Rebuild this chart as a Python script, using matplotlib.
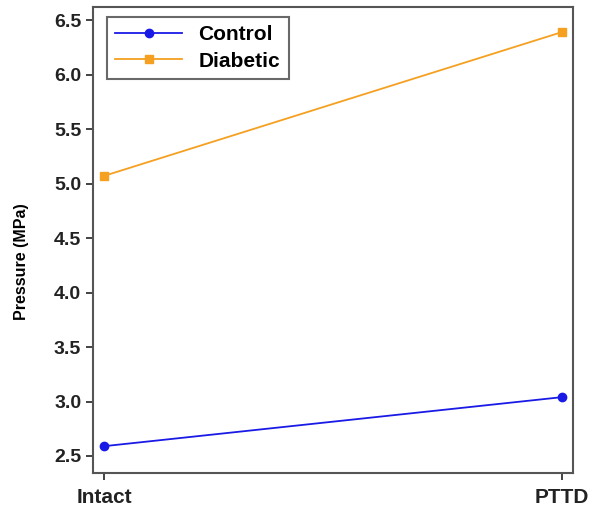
import matplotlib.pyplot as plt

conditions = ["Intact", "PTTD"]
control = [2.59, 3.04]
diabetic = [5.07, 6.39]

plt.rcParams['font.family'] = ['Liberation Sans', 'DejaVu Sans']
plt.rcParams['font.weight'] = 'bold'

fig = plt.figure(figsize=(5.92, 5.12), dpi=100)
ax = fig.add_axes([93/592, 1-473/512, 480/592, 466/512])

x = list(range(len(conditions)))
ax.plot(x, control, color='#1a1ae6', marker='o', markersize=6, lw=1.3, label='Control')
ax.plot(x, diabetic, color='#f5a020', marker='s', markersize=6, lw=1.3, label='Diabetic')

ax.set_xlim(-0.024, 1.024)
ax.set_ylim(2.344, 6.62)
ax.set_xticks(x)
ax.set_xticklabels(conditions, fontsize=15, fontweight='bold')
ax.set_yticks([2.5, 3.0, 3.5, 4.0, 4.5, 5.0, 5.5, 6.0, 6.5])
ax.set_yticklabels(["2.5", "3.0", "3.5", "4.0", "4.5", "5.0", "5.5", "6.0", "6.5"], fontsize=14, fontweight='bold')
ax.set_ylabel("Pressure (MPa)", fontsize=11.5, fontweight='bold')
ax.yaxis.set_label_coords(-0.133, 0.453)
for s in ax.spines.values():
    s.set_color('#555555')
    s.set_linewidth(1.5)
ax.tick_params(colors='#222222', length=5, width=1.2)
ax.tick_params(axis='x', pad=6)

leg = ax.legend(loc='upper left', bbox_to_anchor=(0.029, 0.9785), fontsize=15,
                frameon=True, fancybox=False, handlelength=3.2, borderaxespad=0,
                borderpad=0.4, labelspacing=0.35)
leg.get_frame().set_edgecolor('#444444')
leg.get_frame().set_linewidth(1.5)

fig.savefig('out.png', dpi=100)
